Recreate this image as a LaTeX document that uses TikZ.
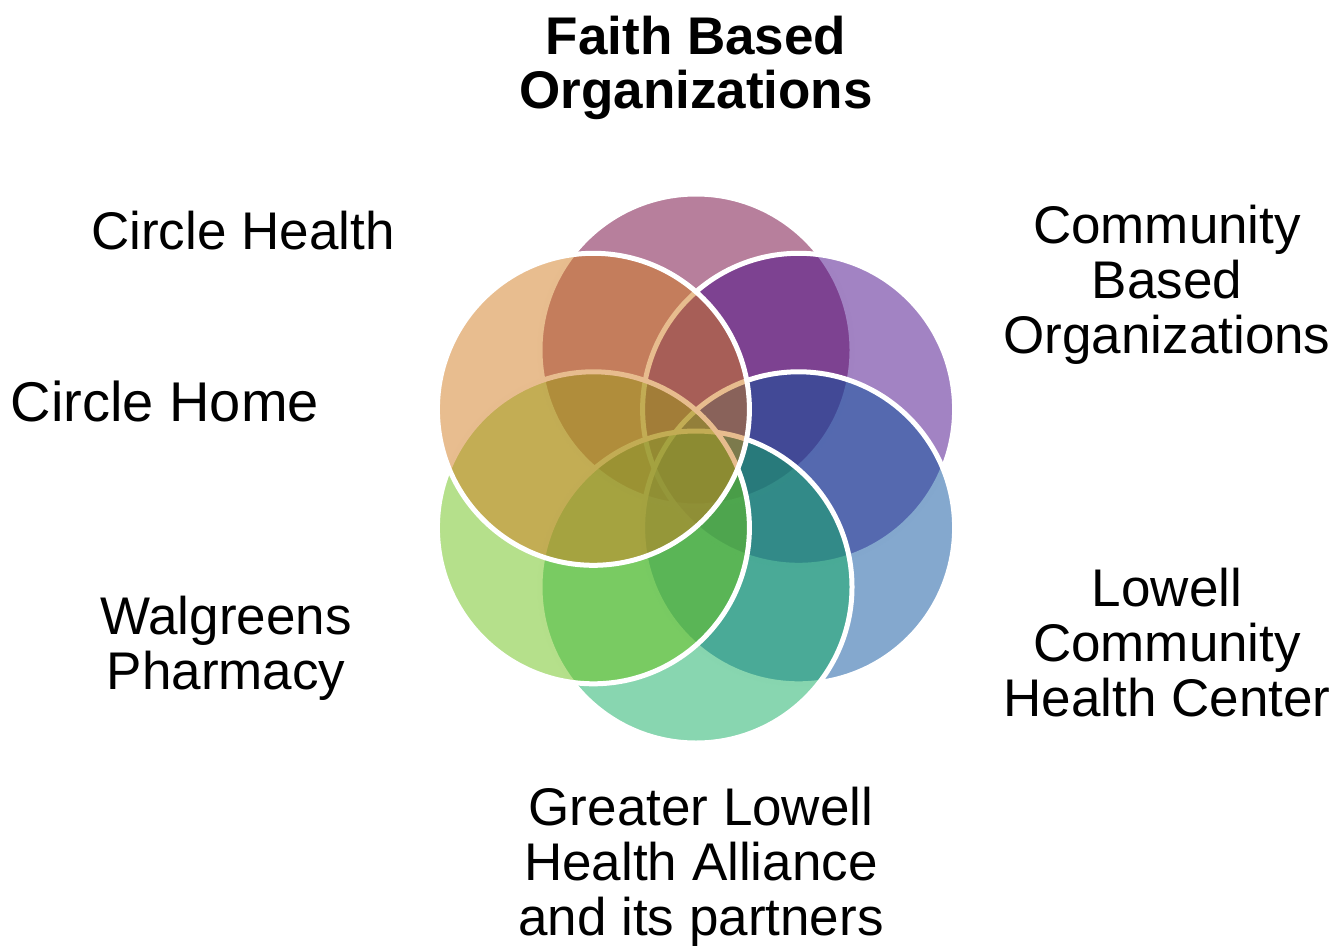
\documentclass[tikz,border=0pt]{standalone}
\usepackage{fontspec}
\setmainfont{Liberation Sans}
\definecolor{mauveC}{RGB}{111,0,57}
\definecolor{purpleC}{RGB}{69,7,135}
\definecolor{blueC}{RGB}{9,81,157}
\definecolor{tealC}{RGB}{17,173,97}
\definecolor{greenC}{RGB}{107,193,23}
\definecolor{tanC}{RGB}{209,123,31}
\begin{document}
\begin{tikzpicture}[x=0.5pt,y=-0.5pt,
  venn/.style={circle, draw=white, line width=2.5pt, fill opacity=0.5, draw opacity=1, minimum size=156pt, inner sep=0pt},
  lbl/.style={font=\fontsize{26.5pt}{27.3pt}\selectfont, align=center, anchor=base, inner sep=0pt, text=black}]
\useasboundingbox (0,0) rectangle (1336,946);
\node[venn, fill=mauveC]  (c1) at (696,350) {};
\node[venn, fill=purpleC] (c2) at (798.6,409.3) {};
\node[venn, fill=blueC]   (c3) at (798.6,527.8) {};
\node[venn, fill=tealC]   (c4) at (696,587) {};
\node[venn, fill=greenC]  (c5) at (593.4,527.8) {};
\node[venn, fill=tanC]    (c6) at (593.4,409.3) {};
\node[lbl, font=\fontsize{26.5pt}{27.3pt}\selectfont\bfseries] (t1) at (696,109) {Faith Based\\Organizations};
\node[lbl] (t2) at (1167,353) {Community\\Based\\Organizations};
\node[lbl] (t3) at (1167,716) {Lowell\\Community\\Health Center};
\node[lbl] (t4) at (701,935) {Greater Lowell\\Health Alliance\\and its partners};
\node[lbl] (t5) at (226,689) {Walgreens\\Pharmacy};
\node[lbl, font=\fontsize{28pt}{29pt}\selectfont] (t6) at (165,421) {Circle Home};
\node[lbl] (t7) at (243,250) {Circle Health};
\end{tikzpicture}
\end{document}
